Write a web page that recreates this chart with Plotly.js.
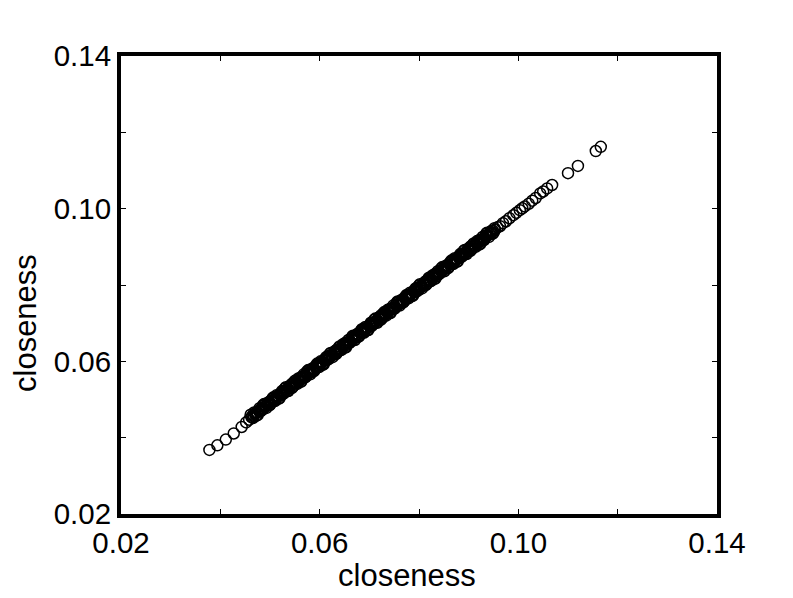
<!DOCTYPE html>
<html>
<head>
<meta charset="utf-8">
<script src="https://cdn.plot.ly/plotly-3.0.1.min.js"></script>
<style>html,body{margin:0;padding:0;background:#fff;}#chart{width:793px;height:598px;}</style>
</head>
<body>
<div id="chart"></div>
<script>
// closeness (x) vs closeness (y)
const xCloseness = [
0.0378,0.0394,0.0411,0.0427,0.0443,0.0452,0.0458,0.0463,0.0467,0.0471,0.0474,0.0478,
0.0483,0.0486,0.0490,0.0492,0.0495,0.0499,0.0502,0.0504,0.0508,0.0511,0.0513,0.0517,
0.0520,0.0522,0.0526,0.0529,0.0531,0.0535,0.0538,0.0540,0.0544,0.0547,0.0549,0.0553,
0.0556,0.0558,0.0562,0.0565,0.0567,0.0571,0.0574,0.0576,0.0580,0.0583,0.0585,0.0589,
0.0592,0.0594,0.0598,0.0601,0.0603,0.0607,0.0610,0.0612,0.0616,0.0619,0.0621,0.0625,
0.0628,0.0630,0.0634,0.0637,0.0639,0.0643,0.0646,0.0648,0.0652,0.0655,0.0657,0.0661,
0.0664,0.0666,0.0670,0.0673,0.0675,0.0679,0.0682,0.0684,0.0688,0.0691,0.0693,0.0697,
0.0700,0.0702,0.0706,0.0709,0.0711,0.0715,0.0718,0.0720,0.0724,0.0727,0.0729,0.0733,
0.0736,0.0738,0.0742,0.0745,0.0747,0.0751,0.0754,0.0756,0.0760,0.0763,0.0765,0.0769,
0.0772,0.0774,0.0778,0.0781,0.0783,0.0787,0.0790,0.0792,0.0796,0.0799,0.0801,0.0805,
0.0808,0.0810,0.0814,0.0817,0.0819,0.0823,0.0826,0.0828,0.0832,0.0835,0.0837,0.0841,
0.0844,0.0846,0.0850,0.0853,0.0855,0.0859,0.0862,0.0864,0.0868,0.0871,0.0873,0.0877,
0.0880,0.0882,0.0886,0.0889,0.0891,0.0895,0.0898,0.0900,0.0904,0.0907,0.0909,0.0913,
0.0916,0.0918,0.0922,0.0925,0.0928,0.0931,0.0934,
0.0938,0.0942,0.0945,0.0949,0.0953,0.0958,0.0963,0.0969,0.0975,0.0982,0.0990,0.0996,
0.1003,0.1008,0.1013,0.1021,0.1028,0.1035,0.1044,0.1050,0.1058,0.1068,
0.1100,0.1120,0.1156,0.1166,
0.0461,0.0466,0.0470,0.0475,0.0479,0.0484,0.0488,0.0493,0.0497,0.0501,
0.0506,0.0510,0.0515,0.0519,0.0524,0.0528,0.0532,0.0537,0.0541,0.0546,
0.0550,0.0555,0.0559,0.0563,0.0568,0.0572,0.0577,0.0581,0.0586,0.0590,
0.0595,0.0599,0.0604,0.0608,0.0613,0.0617,0.0622,0.0626,0.0631,0.0635,
0.0640,0.0644,0.0649,0.0653,0.0658,0.0662,0.0667,0.0671,0.0676,0.0680,
0.0685,0.0689,0.0694,0.0698,0.0703,0.0707,0.0712,0.0716,0.0721,0.0725,
0.0730,0.0734,0.0739,0.0743,0.0748,0.0752,0.0757,0.0761,0.0766,0.0770,
0.0775,0.0779,0.0784,0.0788,0.0793,0.0797,0.0802,0.0806,0.0811,0.0815,
0.0820,0.0824,0.0829,0.0833,0.0838,0.0842,0.0847,0.0851,0.0856,0.0860,
0.0865,0.0869,0.0874,0.0878,0.0883,0.0887,0.0892,0.0896,0.0901,0.0905,
0.0910,0.0914,0.0919,0.0923,0.0928,0.0932,0.0937,0.0941,0.0946,0.0950,
0.0463,0.0468,0.0472,0.0477,0.0481,0.0486,0.0490,0.0495,0.0499,0.0504,
0.0508,0.0513,0.0517,0.0521,0.0526,0.0530,0.0535,0.0539,0.0544,0.0548,
0.0553,0.0557,0.0561,0.0566,0.0570,0.0575,0.0579,0.0584,0.0588,0.0593,
0.0597,0.0602,0.0606,0.0611,0.0615,0.0620,0.0624,0.0629,0.0633,0.0638,
0.0642,0.0647,0.0651,0.0656,0.0660,0.0665,0.0669,0.0674,0.0678,0.0683,
0.0687,0.0692,0.0696,0.0701,0.0705,0.0710,0.0714,0.0719,0.0723,0.0728,
0.0732,0.0737,0.0741,0.0746,0.0750,0.0755,0.0759,0.0764,0.0768,0.0773,
0.0777,0.0782,0.0786,0.0791,0.0795,0.0800,0.0804,0.0809,0.0813,0.0818,
0.0822,0.0827,0.0831,0.0836,0.0840,0.0845,0.0849,0.0854,0.0858,0.0863,
0.0867,0.0872,0.0876,0.0881,0.0885,0.0890,0.0894,0.0899,0.0903,0.0908,
0.0912,0.0917,0.0921,0.0926,0.0930,0.0935,0.0939,0.0944,0.0948,0.0952
];
const yCloseness = [
0.0368,0.0380,0.0395,0.0411,0.0428,0.0440,0.0447,0.0455,0.0457,0.0463,0.0466,0.0470,
0.0477,0.0475,0.0486,0.0483,0.0487,0.0486,0.0497,0.0494,0.0505,0.0499,0.0506,0.0508,
0.0514,0.0511,0.0522,0.0520,0.0523,0.0522,0.0533,0.0530,0.0541,0.0535,0.0542,0.0544,
0.0550,0.0547,0.0558,0.0556,0.0559,0.0558,0.0569,0.0566,0.0577,0.0571,0.0578,0.0580,
0.0586,0.0583,0.0594,0.0592,0.0595,0.0594,0.0605,0.0602,0.0613,0.0607,0.0614,0.0616,
0.0622,0.0619,0.0630,0.0628,0.0631,0.0630,0.0641,0.0638,0.0649,0.0643,0.0650,0.0652,
0.0658,0.0655,0.0666,0.0664,0.0667,0.0666,0.0677,0.0674,0.0685,0.0679,0.0686,0.0688,
0.0694,0.0691,0.0702,0.0700,0.0703,0.0702,0.0713,0.0710,0.0721,0.0715,0.0722,0.0724,
0.0730,0.0727,0.0738,0.0736,0.0739,0.0738,0.0749,0.0746,0.0757,0.0751,0.0758,0.0760,
0.0766,0.0763,0.0774,0.0772,0.0775,0.0774,0.0785,0.0782,0.0793,0.0787,0.0794,0.0796,
0.0802,0.0799,0.0810,0.0808,0.0811,0.0810,0.0821,0.0818,0.0829,0.0823,0.0830,0.0832,
0.0838,0.0835,0.0846,0.0844,0.0847,0.0846,0.0857,0.0854,0.0865,0.0859,0.0866,0.0868,
0.0874,0.0871,0.0882,0.0880,0.0883,0.0882,0.0893,0.0890,0.0901,0.0895,0.0902,0.0904,
0.0910,0.0907,0.0918,0.0916,0.0920,0.0918,0.0929,
0.0931,0.0935,0.0936,0.0942,0.0944,0.0951,0.0954,0.0962,0.0967,0.0975,0.0983,0.0989,
0.0996,0.1001,0.1006,0.1013,0.1021,0.1028,0.1040,0.1045,0.1053,0.1062,
0.1093,0.1112,0.1151,0.1162,
0.0460,0.0452,0.0464,0.0459,0.0477,0.0473,0.0488,0.0478,0.0493,0.0488,
0.0505,0.0496,0.0509,0.0503,0.0522,0.0517,0.0532,0.0522,0.0537,0.0533,
0.0549,0.0541,0.0553,0.0547,0.0566,0.0561,0.0577,0.0566,0.0582,0.0577,
0.0594,0.0585,0.0598,0.0592,0.0611,0.0606,0.0622,0.0611,0.0627,0.0622,
0.0639,0.0630,0.0643,0.0637,0.0656,0.0651,0.0667,0.0656,0.0672,0.0667,
0.0684,0.0675,0.0688,0.0682,0.0701,0.0696,0.0712,0.0701,0.0717,0.0712,
0.0729,0.0720,0.0733,0.0727,0.0746,0.0741,0.0757,0.0746,0.0762,0.0757,
0.0774,0.0765,0.0778,0.0772,0.0791,0.0786,0.0802,0.0791,0.0807,0.0802,
0.0819,0.0810,0.0823,0.0817,0.0836,0.0831,0.0847,0.0836,0.0852,0.0847,
0.0864,0.0855,0.0868,0.0862,0.0881,0.0876,0.0892,0.0881,0.0897,0.0892,
0.0909,0.0900,0.0913,0.0907,0.0926,0.0921,0.0937,0.0926,0.0942,0.0937,
0.0453,0.0466,0.0457,0.0470,0.0469,0.0485,0.0481,0.0490,0.0485,0.0501,
0.0498,0.0511,0.0502,0.0514,0.0514,0.0529,0.0526,0.0534,0.0530,0.0545,
0.0543,0.0555,0.0546,0.0559,0.0558,0.0574,0.0570,0.0579,0.0574,0.0590,
0.0587,0.0600,0.0591,0.0604,0.0603,0.0619,0.0615,0.0624,0.0619,0.0635,
0.0632,0.0645,0.0636,0.0649,0.0648,0.0664,0.0660,0.0669,0.0664,0.0680,
0.0677,0.0690,0.0681,0.0694,0.0693,0.0709,0.0705,0.0714,0.0709,0.0725,
0.0722,0.0735,0.0726,0.0739,0.0738,0.0754,0.0750,0.0759,0.0754,0.0770,
0.0767,0.0780,0.0771,0.0784,0.0783,0.0799,0.0795,0.0804,0.0799,0.0815,
0.0812,0.0825,0.0816,0.0829,0.0828,0.0844,0.0840,0.0849,0.0844,0.0860,
0.0857,0.0870,0.0861,0.0874,0.0873,0.0889,0.0885,0.0894,0.0889,0.0905,
0.0902,0.0915,0.0906,0.0919,0.0918,0.0934,0.0930,0.0939,0.0934,0.0949
];
const tickValues = [0.02,0.04,0.06,0.08,0.10,0.12,0.14];
const tickLabels = ['0.02','','0.06','','0.10','','0.14'];
const axisTitle = 'closeness';

const fontFam = '"Liberation Sans", Arial, sans-serif';
const axisCommon = {
  range:[0.02,0.14], tickmode:'array', tickvals:tickValues, ticktext:tickLabels,
  showline:true, linewidth:4, linecolor:'#000', mirror:'ticks',
  ticks:'inside', ticklen:5, tickwidth:1, tickcolor:'#000',
  showgrid:false, zeroline:false, tickfont:{family:fontFam,size:29.5,color:'#000'},
  automargin:false
};
const data = [{
  type:'scatter', mode:'markers', x:xCloseness, y:yCloseness,
  marker:{symbol:'circle-open', size:11, color:'#000', line:{width:1.5,color:'#000'}},
  hoverinfo:'skip'
}];
const layout = {
  width:793, height:598,
  margin:{l:121, r:76, t:56, b:84},
  paper_bgcolor:'#fff', plot_bgcolor:'#fff', showlegend:false,
  font:{family:fontFam,color:'#000'},
  xaxis:axisCommon,
  yaxis:Object.assign({}, axisCommon),
  annotations:[
    {text:axisTitle, xref:'paper', yref:'paper', x:0.4799, y:-0.1332, xanchor:'center', yanchor:'middle',
     showarrow:false, font:{family:fontFam,size:31,color:'#000'}},
    {text:axisTitle, xref:'paper', yref:'paper', x:-0.1611, y:0.417, xanchor:'center', yanchor:'middle',
     textangle:-90, showarrow:false, font:{family:fontFam,size:31,color:'#000'}}
  ]
};
Plotly.newPlot('chart', data, layout, {staticPlot:true, displayModeBar:false});
</script>
</body>
</html>
